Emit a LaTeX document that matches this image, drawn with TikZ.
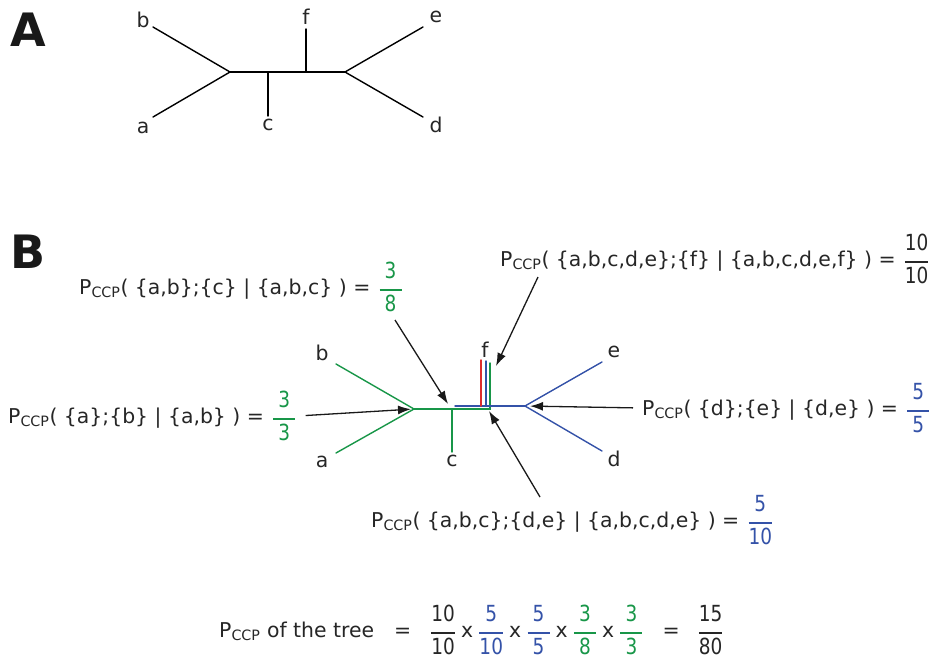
\documentclass[tikz,border=0pt]{standalone}
\usepackage{fontspec}
\setmainfont{DejaVu Sans}
\usepackage{amsmath}
\usepackage{tikz}
\usetikzlibrary{arrows.meta}

\definecolor{cgreen}{RGB}{24,150,72}
\definecolor{cblue}{RGB}{52,82,168}
\definecolor{cred}{RGB}{222,45,45}
\newcommand{\pccp}{P\textsubscript{CCP}}
% fraction digits, stretched a little, bar at least 22pt long
\newcommand{\frdig}[1]{\sbox0{\scalebox{1}[1.2]{#1}}\ifdim\wd0<22pt \makebox[22pt]{\usebox0}\else\usebox0\fi}
\newcommand{\fr}[2]{{\fontsize{18.5}{22}\selectfont$\genfrac{}{}{1.4pt}{0}{\raisebox{4pt}{\frdig{#1}}}{\raisebox{-3pt}{\frdig{#2}}}$}}
\newcommand{\eqfr}{=\hspace{8pt}}
\newcommand{\tms}{\hspace{5pt}x\hspace{5pt}}

\begin{document}
\begin{tikzpicture}[
  x=1pt, y=-1pt,
  every node/.style={font=\fontsize{20.4}{24}\selectfont, text=black!85, inner sep=1pt},
  panel/.style={font=\fontsize{46}{50}\selectfont\bfseries, text=black!90},
  branch/.style={line width=1.4pt, line cap=round},
  ptr/.style={-{Latex[length=13pt,width=9pt]}, line width=1.3pt, black!90}
]
\useasboundingbox (0,0) rectangle (938,662);

% panel A
\node[panel] (lblA) at (28,30) {A};
\coordinate (ab) at (230,72);
\coordinate (ac) at (268,72);
\coordinate (af) at (306,72);
\coordinate (ade) at (345,72);
\coordinate (Aa) at (153,117);
\coordinate (Ab) at (153,27);
\coordinate (Ac) at (268,116);
\coordinate (Af) at (306,29);
\coordinate (Ae) at (423,27);
\coordinate (Ad) at (423,117);
\draw[branch] (Aa) -- (ab) -- (Ab);
\draw[branch] (ab) -- (ade);
\draw[branch] (ac) -- (Ac);
\draw[branch] (af) -- (Af);
\draw[branch] (Ae) -- (ade) -- (Ad);
\node (ta) at (143,128) {a};
\node (tb) at (143,20) {b};
\node (tc) at (268,125) {c};
\node (tf) at (306,17) {f};
\node (te) at (436,17) {e};
\node (td) at (436,125) {d};

% panel B
\node[panel] (lblB) at (28,252) {B};
\coordinate (bl) at (414,409);
\coordinate (Ba) at (336,453);
\coordinate (Bb) at (336,364);
\coordinate (bc) at (452,409);
\coordinate (Bc) at (452,452);
\coordinate (bg) at (490,409);
\coordinate (Bg) at (490,363);
\coordinate (bs) at (455,406);
\coordinate (bf) at (486,406);
\coordinate (Bf) at (486,361);
\coordinate (br) at (525,406);
\coordinate (Be) at (602,362);
\coordinate (Bd) at (602,451);
\coordinate (rf) at (481,406);
\coordinate (Rf) at (481,360);
\draw[branch, cgreen] (Ba) -- (bl) -- (Bb);
\draw[branch, cgreen] (bl) -- (bg) -- (Bg);
\draw[branch, cgreen] (bc) -- (Bc);
\draw[branch, cblue] (bs) -- (br);
\draw[branch, cblue] (bf) -- (Bf);
\draw[branch, cblue] (Be) -- (br) -- (Bd);
\draw[branch, cred] (rf) -- (Rf);
\node (ua) at (322,462) {a};
\node (ub) at (322,353) {b};
\node (uc) at (452,461) {c};
\node (uf) at (485,350) {f};
\node (ue) at (614,352) {e};
\node (ud) at (614,459) {d};

% ccp labels
\node[anchor=west] (pab) at (7,416) {\pccp( \{a\};\{b\} | \{a,b\} ) \eqfr\textcolor{cgreen}{\fr{3}{3}}};
\node[anchor=west] (pabc) at (78,287) {\pccp( \{a,b\};\{c\} | \{a,b,c\} ) \eqfr\textcolor{cgreen}{\fr{3}{8}}};
\node[anchor=west] (pf) at (499,259) {\pccp( \{a,b,c,d,e\};\{f\} | \{a,b,c,d,e,f\} ) \eqfr\fr{10}{10}};
\node[anchor=west] (pde) at (641,408) {\pccp( \{d\};\{e\} | \{d,e\} ) \eqfr\textcolor{cblue}{\fr{5}{5}}};
\node[anchor=west] (pdes) at (370,520) {\pccp( \{a,b,c\};\{d,e\} | \{a,b,c,d,e\} ) \eqfr\textcolor{cblue}{\fr{5}{10}}};
\node[anchor=west] (total) at (218,630) {\pccp{} of the tree\hspace{20pt}=\hspace{19pt}\fr{10}{10}\tms\textcolor{cblue}{\fr{5}{10}}\tms\textcolor{cblue}{\fr{5}{5}}\tms\textcolor{cgreen}{\fr{3}{8}}\tms\textcolor{cgreen}{\fr{3}{3}}\hspace{19pt}=\hspace{18pt}\fr{15}{80}};

% pointers
\coordinate (s2) at (395,320);
\coordinate (s3) at (538,277);
\coordinate (s5) at (540,497);
\coordinate (t2) at (448,404);
\coordinate (t3) at (496,366);
\coordinate (t5) at (489,411);
\draw[ptr, shorten <=8pt, shorten >=3pt] (pab.east) -- (bl);
\draw[ptr] (s2) -- (t2);
\draw[ptr] (s3) -- (t3);
\draw[ptr, shorten <=8pt, shorten >=5pt] (pde.west) -- (br);
\draw[ptr] (s5) -- (t5);
\end{tikzpicture}
\end{document}
